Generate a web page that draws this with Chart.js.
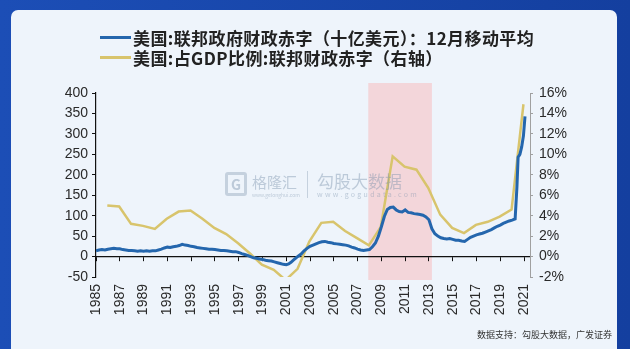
<!DOCTYPE html>
<html><head><meta charset="utf-8">
<script src="https://cdn.jsdelivr.net/npm/chart.js@4/dist/chart.umd.min.js"></script>
<style>
html,body{margin:0;padding:0;}
body{width:630px;height:349px;overflow:hidden;position:relative;background:linear-gradient(90deg,#1c4eb6,#143f9f);font-family:"Liberation Sans",Arial,sans-serif;}
#panel{position:absolute;left:11px;top:10px;width:606px;height:339px;background:#eef4fb;border-radius:7px 7px 0 0;}
#c{position:absolute;left:0;top:0;}
.leg{position:absolute;left:100px;height:22px;display:flex;align-items:center;font-family:"Noto Sans CJK SC",sans-serif;font-size:17px;font-weight:bold;color:#222;white-space:nowrap;letter-spacing:0.4px;}
.leg i{display:inline-block;width:31px;height:3px;margin-right:2px;}
.wm{position:absolute;color:rgba(120,142,170,0.42);white-space:nowrap;font-family:"Noto Sans CJK SC",sans-serif;}
#src{position:absolute;right:18px;top:328px;font-family:"Noto Sans CJK SC",sans-serif;font-size:9px;color:#333;white-space:nowrap;}
</style></head>
<body>
<div id="panel"></div>
<canvas id="c" width="630" height="349"></canvas>
<div class="leg" style="top:26px"><i style="background:#2466ad"></i><span id="l1"></span></div>
<div class="leg" style="top:46px"><i style="background:#d8c46c"></i><span id="l2"></span></div>
<div class="wm" style="left:225px;top:172px;width:22px;height:24px;border:3px solid rgba(120,142,170,0.35);box-sizing:border-box;border-radius:3px;font-size:14px;line-height:18px;text-align:center;font-weight:bold;">G</div>
<div class="wm" style="left:252px;top:171px;font-size:15px;">格隆汇</div>
<div class="wm" style="left:252px;top:191px;font-size:5px;">www.gelonghui.com</div>
<div class="wm" style="left:307px;top:171px;width:1px;height:27px;background:rgba(120,142,170,0.35);"></div>
<div class="wm" style="left:317px;top:168px;font-size:17px;">勾股大数据</div>
<div class="wm" style="left:317px;top:189px;font-size:7px;letter-spacing:2.3px;">www.gogudata.com</div>
<div id="src">数据支持：勾股大数据，广发证券</div>
<script>
// ---- data ----
const seriesNames = ["美国:联邦政府财政赤字（十亿美元）：12月移动平均", "美国:占GDP比例:联邦财政赤字（右轴）"];
const xTickYears = [1985,1987,1989,1991,1993,1995,1997,1999,2001,2003,2005,2007,2009,2011,2013,2015,2017,2019,2021];
const highlightRange = [2007.9, 2013.25];
// Blue: federal deficit, 12-month moving average (billion USD), dated in decimal years
const deficitDates = [
1985.0,1985.25,1985.5,1985.75,1986.0,1986.25,1986.5,1986.75,1987.0,1987.25,1987.5,1987.75,
1988.0,1988.25,1988.5,1988.75,1989.0,1989.25,1989.5,1989.75,1990.0,1990.25,1990.5,1990.75,
1991.0,1991.25,1991.5,1991.75,1992.0,1992.25,1992.5,1992.75,1993.0,1993.25,1993.5,1993.75,
1994.0,1994.25,1994.5,1994.75,1995.0,1995.25,1995.5,1995.75,1996.0,1996.25,1996.5,1996.75,
1997.0,1997.25,1997.5,1997.75,1998.0,1998.25,1998.5,1998.75,1999.0,1999.25,1999.5,1999.75,
2000.0,2000.25,2000.5,2000.75,2001.0,2001.2,2001.4,2001.6,2001.8,2002.0,2002.25,2002.5,2002.75,
2003.0,2003.25,2003.5,2003.75,2004.0,2004.25,2004.5,2004.75,2005.0,2005.25,2005.5,2005.75,
2006.0,2006.25,2006.5,2006.75,2007.0,2007.25,2007.5,2007.75,2008.0,2008.25,2008.5,2008.75,
2009.0,2009.25,2009.5,2009.75,2010.0,2010.25,2010.5,2010.75,2011.0,2011.25,2011.5,2011.75,
2012.0,2012.25,2012.5,2012.75,2013.0,2013.25,2013.5,2013.75,2014.0,2014.25,2014.5,2014.75,
2015.0,2015.25,2015.5,2015.75,2016.0,2016.25,2016.5,2016.75,2017.0,2017.25,2017.5,2017.75,
2018.0,2018.25,2018.5,2018.75,2019.0,2019.25,2019.5,2019.75,2020.0,2020.25,2020.4,2020.5,
2020.65,2020.8,2020.95,2021.08];
const deficitValues = [
14,16,17,16,18,19,20,19,19,17,16,15,
15,14,13,14,13,14,13,14,14,16,18,21,
23,22,24,25,27,30,28,27,25,24,22,21,
20,19,18,18,17,16,15,15,14,13,12,12,
10,7,5,3,0,-3,-4,-6,-7,-9,-10,-11,
-13,-15,-17,-19,-20,-18,-14,-9,-4,1,6,14,20,
25,28,31,34,36,37,35,34,32,31,30,29,
28,26,23,21,18,16,15,16,17,24,33,50,
73,98,115,120,121,114,110,109,114,108,107,105,
104,103,101,97,90,68,56,50,46,44,43,44,
42,40,40,38,37,42,47,50,53,55,57,60,
63,66,70,74,77,81,84,87,89,92,170,243,
250,268,296,343];
// Yellow: federal deficit as % of GDP, by fiscal year (right axis)
const fiscalYears = [1985,1986,1987,1988,1989,1990,1991,1992,1993,1994,1995,1996,1997,1998,1999,2000,2001,2002,2003,2004,2005,2006,2007,2008,2009,2010,2011,2012,2013,2014,2015,2016,2017,2018,2019,2020];
const deficitPctGdp = [5.0,4.9,3.2,3.0,2.7,3.7,4.4,4.5,3.7,2.8,2.2,1.3,0.3,-0.8,-1.3,-2.3,-1.2,1.5,3.3,3.4,2.5,1.8,1.1,2.9,9.8,8.8,8.5,6.7,4.1,2.8,2.3,3.1,3.4,3.9,4.6,14.9];
const leftTicks = {min:-50, max:400, step:50};
const rightTicks = {min:-2, max:16, step:2};

document.getElementById('l1').textContent = seriesNames[0];
document.getElementById('l2').textContent = seriesNames[1];

const bandPlugin = {
  id:'band',
  beforeDraw(chart){
    const {ctx, chartArea:a, scales:{x}} = chart;
    const x0 = x.getPixelForValue(highlightRange[0]);
    const x1 = x.getPixelForValue(highlightRange[1]);
    ctx.save();
    ctx.fillStyle = '#f3d6da';
    ctx.fillRect(x0, a.top - 10, x1 - x0, a.bottom - a.top + 13);
    ctx.restore();
  }
};
const setTicks = s => { s.ticks = xTickYears.map(v => ({value:v})); };
const txt = '#2a2a2a';

new Chart(document.getElementById('c'), {
  type:'line',
  data:{datasets:[
    {label:seriesNames[0], data:deficitDates.map((d,i)=>({x:d,y:deficitValues[i]})), borderColor:'#2466ad', borderWidth:3, pointRadius:0, tension:0, xAxisID:'x', yAxisID:'y', order:0},
    {label:seriesNames[1], data:fiscalYears.map((d,i)=>({x:d+0.95,y:deficitPctGdp[i]})), borderColor:'#d8c46c', borderWidth:2.5, pointRadius:0, tension:0, xAxisID:'x', yAxisID:'y1', order:1}
  ]},
  options:{
    responsive:false, animation:false, devicePixelRatio:1,
    layout:{padding:{top:93,left:0,right:0,bottom:0}},
    plugins:{legend:{display:false}, tooltip:{enabled:false}},
    scales:{
      x:{type:'linear', position:'bottom', min:1985, max:2021.5,
        afterBuildTicks:setTicks, afterFit:s=>{s.height=72;},
        grid:{display:false, drawTicks:false}, border:{display:false},
        ticks:{autoSkip:false, maxRotation:90, minRotation:90, padding:7, color:txt, font:{family:'"Liberation Sans", Arial', size:14}, callback:v=>String(v)}},
      x0:{type:'linear', axis:'x', position:{y:0}, min:1985, max:2021.5,
        afterBuildTicks:setTicks,
        grid:{display:true, drawOnChartArea:false, drawTicks:true, tickLength:4, color:'#111', lineWidth:1},
        border:{display:true, color:'#111', width:1.2}, ticks:{display:false}},
      y:{position:'left', min:leftTicks.min, max:leftTicks.max, afterFit:s=>{s.width=96;},
        grid:{drawOnChartArea:false, drawTicks:true, tickLength:4, color:'#111'},
        border:{color:'#111', width:1.2},
        ticks:{stepSize:leftTicks.step, padding:4, color:txt, font:{family:'"Liberation Sans", Arial', size:14}}},
      y1:{position:'right', min:rightTicks.min, max:rightTicks.max, afterFit:s=>{s.width=100;},
        grid:{drawOnChartArea:false, drawTicks:true, tickLength:3, color:'#a0a0a0'},
        border:{color:'#a0a0a0', width:1},
        ticks:{stepSize:rightTicks.step, padding:6, color:txt, font:{family:'"Liberation Sans", Arial', size:14}, callback:v=>v+'%'}}
    }
  },
  plugins:[bandPlugin]
});
</script>
</body></html>
